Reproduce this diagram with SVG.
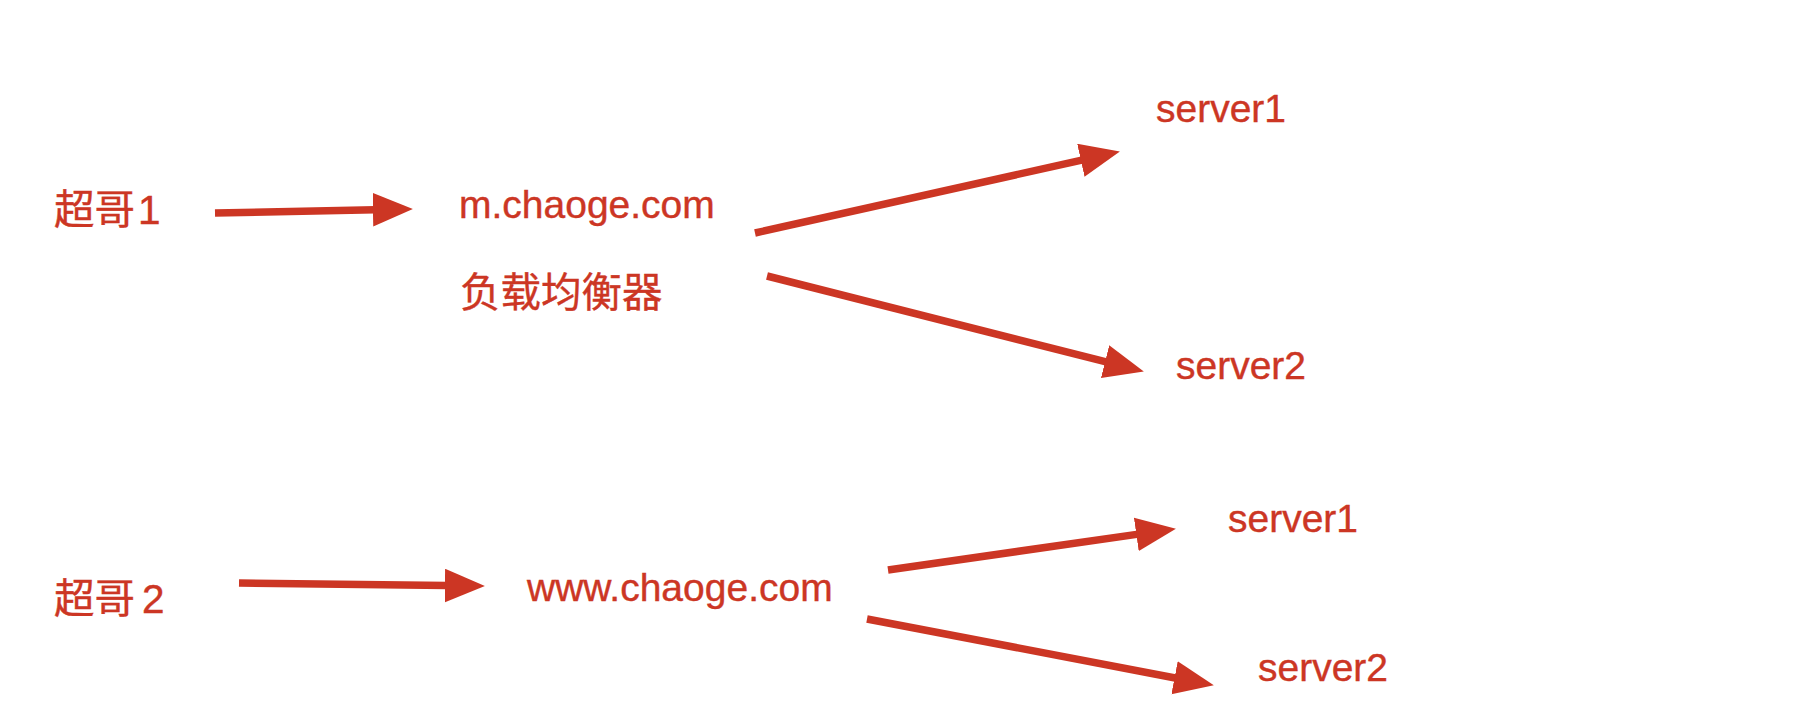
<svg xmlns="http://www.w3.org/2000/svg" width="1798" height="712" viewBox="0 0 1798 712">
  <style>
    .lbl { font-family: "Liberation Sans", "Noto Sans CJK SC", sans-serif; font-size: 39px; fill: #CC3624; stroke: #CC3624; stroke-width: 0.4; }
    .cjk { font-size: 40.5px; }
    .edge { stroke: #CC3624; stroke-width: 7.5; fill: none; stroke-linecap: butt; }
  </style>
  <defs>
    <marker id="head" markerUnits="userSpaceOnUse" markerWidth="40" markerHeight="34" viewBox="0 0 38 32" refX="2" refY="16" orient="auto">
      <path d="M0,0 L38,16 L0,32 Z" fill="#CC3624"/>
    </marker>
  </defs>
  <rect width="1798" height="712" fill="#ffffff"/>

  <g id="connectors">
    <line class="edge" x1="215" y1="213" x2="375" y2="209.7" marker-end="url(#head)"/>
    <line class="edge" x1="755" y1="233" x2="1082.9" y2="159.8" marker-end="url(#head)"/>
    <line class="edge" x1="767" y1="276" x2="1107.1" y2="362.2" marker-end="url(#head)"/>
    <line class="edge" x1="239" y1="583" x2="447" y2="585.6" marker-end="url(#head)"/>
    <line class="edge" x1="888" y1="570" x2="1138.4" y2="534.1" marker-end="url(#head)"/>
    <line class="edge" x1="867" y1="619" x2="1176.6" y2="678.2" marker-end="url(#head)"/>
  </g>

  <g id="user1"><text class="lbl cjk" x="54" y="224">超哥<tspan dx="3">1</tspan></text></g>
  <g id="lb1">
    <text class="lbl" x="459" y="218">m.chaoge.com</text>
    <text class="lbl cjk" x="460" y="307">负载均衡器</text>
  </g>
  <g id="server1a"><text class="lbl" x="1156" y="122">server1</text></g>
  <g id="server2a"><text class="lbl" x="1176" y="379">server2</text></g>

  <g id="user2"><text class="lbl cjk" x="54" y="613">超哥<tspan dx="7">2</tspan></text></g>
  <g id="www"><text class="lbl" x="527" y="601">www.chaoge.com</text></g>
  <g id="server1b"><text class="lbl" x="1228" y="532">server1</text></g>
  <g id="server2b"><text class="lbl" x="1258" y="681">server2</text></g>
</svg>
